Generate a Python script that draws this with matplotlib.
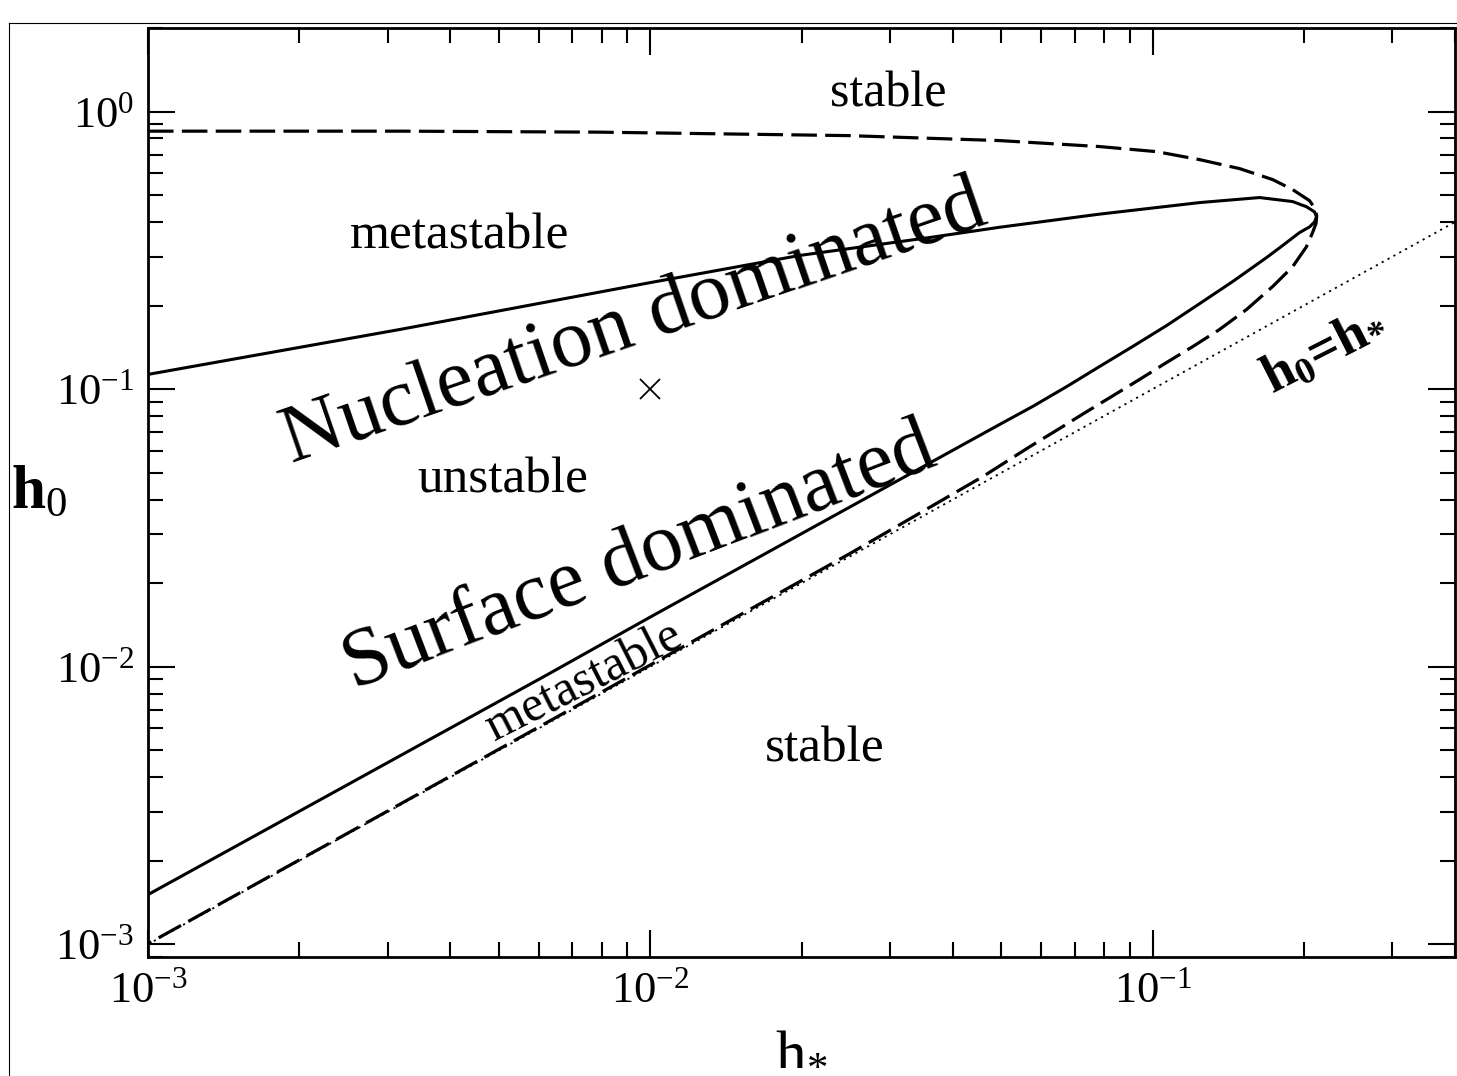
import matplotlib
matplotlib.use("Agg")
from matplotlib import pyplot as plt
from matplotlib.lines import Line2D
from matplotlib.ticker import LogLocator, NullFormatter

plt.rcParams['font.family'] = ['Liberation Serif', 'DejaVu Serif']
plt.rcParams['mathtext.fontset'] = 'custom'
plt.rcParams['mathtext.rm'] = 'Liberation Serif'
plt.rcParams['mathtext.it'] = 'Liberation Serif'
plt.rcParams['mathtext.bf'] = 'Liberation Serif:bold'

# dashed boundary: upper branch -> nose -> lower branch
dash_hs = [0.001, 0.00317, 0.0079, 0.0249, 0.0496, 0.0784, 0.1019, 0.1241, 0.149,
           0.1733, 0.19, 0.2053, 0.2105, 0.2122, 0.2115, 0.2082, 0.2025, 0.19,
           0.1733, 0.1538, 0.1359, 0.1202, 0.1066, 0.094, 0.083, 0.073, 0.065,
           0.057, 0.046, 0.025, 0.0125, 0.00625, 0.003, 0.001]
dash_h0 = [0.85, 0.85, 0.843, 0.819, 0.786, 0.748, 0.717, 0.671, 0.623,
           0.569, 0.5235, 0.4776, 0.448, 0.42, 0.395, 0.3664, 0.326, 0.276,
           0.234, 0.1935, 0.164, 0.1423, 0.1247, 0.1081, 0.0942, 0.0818, 0.0718,
           0.0621, 0.0485, 0.0256, 0.0127, 0.00632, 0.00302, 0.001005]

# solid boundary: upper branch -> nose -> lower branch
solid_hs = [0.001, 0.00317, 0.01, 0.0198, 0.0365, 0.0496, 0.0784, 0.1241, 0.1633,
            0.19, 0.2025, 0.2101, 0.212, 0.2101, 0.2053, 0.1961, 0.1815, 0.1686,
            0.1443, 0.1241, 0.1066, 0.0912, 0.0784, 0.0675, 0.0577, 0.0496, 0.01,
            0.00625, 0.001]
solid_h0 = [0.113, 0.164, 0.242, 0.303, 0.353, 0.383, 0.427, 0.47, 0.49,
            0.474, 0.454, 0.435, 0.418, 0.4, 0.384, 0.3664, 0.3291, 0.2978,
            0.244, 0.2033, 0.1694, 0.1423, 0.1206, 0.1022, 0.0866, 0.0746, 0.0151,
            0.00938, 0.00151]

# h0 = h* reference line
diag_hs = [0.001, 0.4]
diag_h0 = [0.001, 0.4]

# the cross
point_hs = [0.01]
point_h0 = [0.1]

fig = plt.figure(figsize=(14.57, 10.76), dpi=100)
ax = fig.add_axes([148 / 1457, 1 - 957 / 1076, 1307 / 1457, 929 / 1076])

ax.plot(diag_hs, diag_h0, color='black', lw=1.3, linestyle=(0, (1.2, 2.5)))
ax.plot(dash_hs, dash_h0, color='black', lw=2.3, dashes=(8, 2.6))
ax.plot(solid_hs, solid_h0, color='black', lw=2.2)
ax.plot(point_hs, point_h0, 'x', color='black', markersize=14, mew=1.3)

ax.set_xscale('log')
ax.set_yscale('log')
ax.set_xlim(0.001, 0.4)
ax.set_ylim(0.0009, 2.0)

ax.xaxis.set_minor_locator(LogLocator(base=10, subs=range(2, 10)))
ax.yaxis.set_minor_locator(LogLocator(base=10, subs=range(2, 10)))
ax.xaxis.set_minor_formatter(NullFormatter())
ax.yaxis.set_minor_formatter(NullFormatter())
ax.tick_params(which='both', direction='in', top=True, right=True, width=1.5,
               labelsize=32)
ax.tick_params(which='major', length=19.5, pad=10)
ax.tick_params(which='minor', length=10.5)
for s in ax.spines.values():
    s.set_linewidth(2.0)

ax.set_xlabel(r'$\mathrm{h}_{*}$', fontsize=44)
ax.xaxis.set_label_coords(0.5, -0.1)
ax.xaxis.label.set_va('center')
ax.set_ylabel(r'$\mathbf{h}_{0}$', fontsize=44, rotation=0)
ax.yaxis.set_label_coords(-0.083, 0.5)
ax.yaxis.label.set_va('center')
ax.yaxis.label.set_ha('center')

# region labels
ax.text(0.0297, 1.15, 'stable', fontsize=36, ha='center', va='center')
ax.text(0.00418, 0.355, 'metastable', fontsize=37, ha='center', va='center')
ax.text(0.00509, 0.0469, 'unstable', fontsize=37, ha='center', va='center')
ax.text(0.0222, 0.00504, 'stable', fontsize=37, ha='center', va='center')
ax.text(0.0074, 0.00878, 'metastable', fontsize=36, ha='center', va='center',
        rotation=27, rotation_mode='anchor')
ax.text(0.00931, 0.171, 'Nucleation dominated', fontsize=60, ha='center',
        va='center', rotation=19, rotation_mode='anchor')
ax.text(0.00953, 0.0247, 'Surface dominated', fontsize=60, ha='center',
        va='center', rotation=21, rotation_mode='anchor')
ax.text(0.22, 0.1365, r'h$_\mathbf{0}$=h$_\mathbf{*}$', fontweight='bold',
        fontsize=39, ha='center', va='center', rotation=27, rotation_mode='anchor')

# thin outer frame (only top and left edges are inside the picture)
fig.add_artist(Line2D([9 / 1457, 1.0], [1 - 23 / 1076, 1 - 23 / 1076],
                      transform=fig.transFigure, color='black', lw=0.8))
fig.add_artist(Line2D([9 / 1457, 9 / 1457], [0.0, 1 - 23 / 1076],
                      transform=fig.transFigure, color='black', lw=0.8))

fig.savefig('out.png', dpi=100)
